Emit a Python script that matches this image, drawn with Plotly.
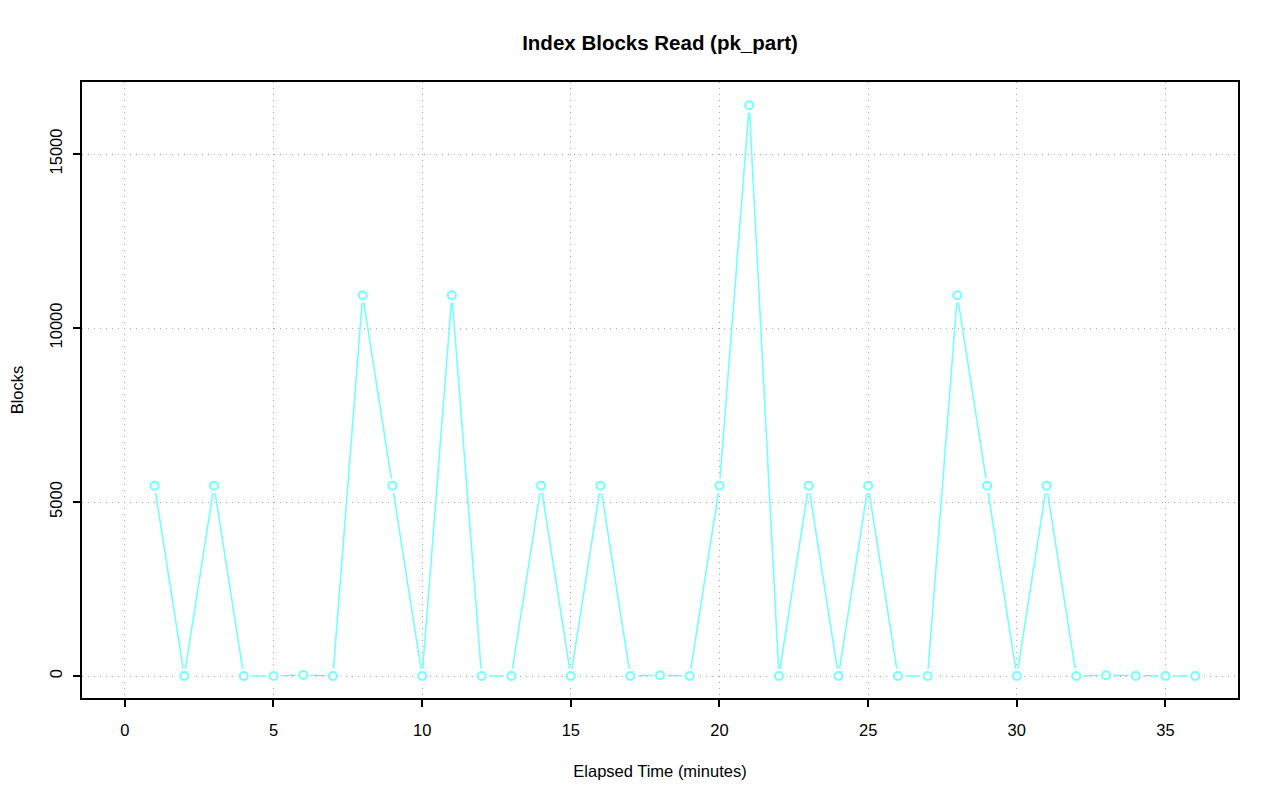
import plotly.graph_objects as go

minutes = list(range(1, 37))
blocks = [5470, 0, 5470, 0, 0, 30, 0, 10940, 5470, 0,
          10940, 0, 0, 5470, 0, 5470, 0, 20, 0, 5470,
          16400, 0, 5470, 0, 5470, 0, 0, 10940, 5470, 0,
          5470, 0, 20, 0, 0, 0]
x_ticks = [0, 5, 10, 15, 20, 25, 30, 35]
y_ticks = [0, 5000, 10000, 15000]

cyan = "#74FFFF"
font = "Liberation Sans, Arial, Helvetica, sans-serif"
grid_dash = "1px,5px"

fig = go.Figure()
fig.add_trace(go.Scatter(x=minutes, y=blocks, mode="lines",
                         line=dict(color=cyan, width=1.6), hoverinfo="skip"))
fig.add_trace(go.Scatter(x=minutes, y=blocks, mode="markers",
                         marker=dict(symbol="circle", size=15, color="white",
                                     line=dict(width=0)), hoverinfo="skip"))
fig.add_trace(go.Scatter(x=minutes, y=blocks, mode="markers",
                         marker=dict(symbol="circle-open", size=8, color=cyan,
                                     line=dict(width=2, color=cyan))))

fig.update_layout(
    width=1280, height=801,
    margin=dict(l=74, r=50, t=74, b=111),
    paper_bgcolor="white", plot_bgcolor="white",
    showlegend=False,
    font=dict(family=font, color="black", size=16.5),
    title=dict(text="<b>Index Blocks Read (pk_part)</b>", x=(660 - 8) / 1280, xanchor="center",
               y=1 - 35/801, yanchor="middle", font=dict(size=20.5, family=font)),
)
fig.update_xaxes(
    range=[-1.44, 37.44], tickvals=x_ticks, ticktext=[str(v) for v in x_ticks],
    showgrid=True, gridcolor="#a8a8a8", griddash=grid_dash, gridwidth=1,
    zeroline=False, showline=True, linecolor="black", linewidth=2, mirror=True,
    ticks="outside", ticklen=7, tickwidth=1.5, tickcolor="black",
    tickfont=dict(size=16.5), ticklabelstandoff=9, automargin=False,
    title=dict(text="Elapsed Time (minutes)", font=dict(size=16.5), standoff=28),
)
fig.update_yaxes(
    range=[-632, 17069], tickvals=y_ticks, ticktext=[str(v) for v in y_ticks],
    showgrid=True, gridcolor="#a8a8a8", griddash=grid_dash, gridwidth=1,
    zeroline=False, showline=True, linecolor="black", linewidth=2, mirror=True,
    ticks="outside", ticklen=7, tickwidth=1.5, tickcolor="black",
    tickfont=dict(size=16.5), tickangle=-90, ticklabelstandoff=4, automargin=False,
    title=dict(text="Blocks", font=dict(size=16.5), standoff=31),
)

fig.write_html("out.html")
